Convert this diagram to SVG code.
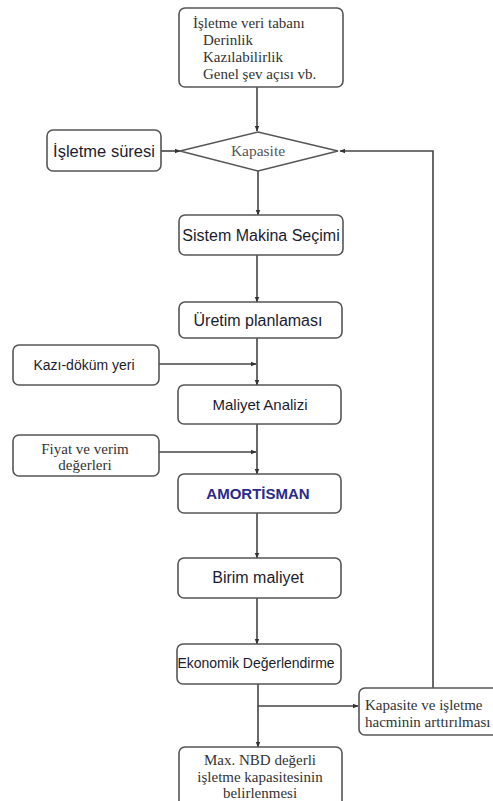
<svg xmlns="http://www.w3.org/2000/svg" width="493" height="801" viewBox="0 0 493 801">
<defs>
<marker id="ah" viewBox="0 0 10 10" refX="9" refY="5" markerWidth="6" markerHeight="6" orient="auto" markerUnits="userSpaceOnUse">
<path d="M0,1 L10,5 L0,9 Z" fill="#333"/>
</marker>
</defs>
<style>
.box{fill:#fff;stroke:#555;stroke-width:1.6}
.ln{fill:none;stroke:#444;stroke-width:1.6}
.sans{font-family:"Liberation Sans",Arial,sans-serif;fill:#1c1c2e}
.serif{font-family:"Liberation Serif","Times New Roman",serif;fill:#333}
.gray{fill:#555}
.blue{fill:#2a2a8c}
</style>
<rect width="493" height="801" fill="#fff"/>
<g id="connectors">
<line class="ln" x1="257" y1="87" x2="257" y2="131" marker-end="url(#ah)"/>
<line class="ln" x1="161" y1="151" x2="180" y2="151" marker-end="url(#ah)"/>
<polyline class="ln" points="433,688 433,151 340,151" marker-end="url(#ah)"/>
<line class="ln" x1="258" y1="171" x2="258" y2="215" marker-end="url(#ah)"/>
<line class="ln" x1="257" y1="255" x2="257" y2="302" marker-end="url(#ah)"/>
<line class="ln" x1="257" y1="338" x2="257" y2="385" marker-end="url(#ah)"/>
<line class="ln" x1="159" y1="364" x2="256" y2="364" marker-end="url(#ah)"/>
<line class="ln" x1="257" y1="424" x2="257" y2="474" marker-end="url(#ah)"/>
<line class="ln" x1="159" y1="452" x2="256" y2="452" marker-end="url(#ah)"/>
<line class="ln" x1="257" y1="513" x2="257" y2="558" marker-end="url(#ah)"/>
<line class="ln" x1="257" y1="598" x2="257" y2="644" marker-end="url(#ah)"/>
<line class="ln" x1="258" y1="684" x2="258" y2="747" marker-end="url(#ah)"/>
<line class="ln" x1="258" y1="706" x2="358" y2="706" marker-end="url(#ah)"/>
</g>
<g id="n-veri">
<rect class="box" x="179" y="8" width="164" height="79" rx="6"/>
<text class="serif" font-size="15" x="193" y="28">İşletme veri tabanı</text>
<text class="serif" font-size="15" x="203" y="45">Derinlik</text>
<text class="serif" font-size="15" x="203" y="62">Kazılabilirlik</text>
<text class="serif" font-size="15" x="203" y="79">Genel şev açısı vb.</text>
</g>
<g id="n-sure">
<rect class="box" x="47" y="130" width="114" height="41" rx="6"/>
<text class="sans" font-size="16.5" x="104" y="157" text-anchor="middle">İşletme süresi</text>
</g>
<g id="n-kapasite">
<polygon class="box" points="180,151 258,132 338,151 258,171"/>
<text class="serif gray" font-size="15.5" x="258" y="156" text-anchor="middle">Kapasite</text>
</g>
<g id="n-sistem">
<rect class="box" x="179" y="215" width="164" height="40" rx="6"/>
<text class="sans" font-size="16" x="261" y="241" text-anchor="middle">Sistem Makina Seçimi</text>
</g>
<g id="n-uretim">
<rect class="box" x="179" y="302" width="163" height="36" rx="6"/>
<text class="sans" font-size="16" x="258" y="326" text-anchor="middle">Üretim planlaması</text>
</g>
<g id="n-kazi">
<rect class="box" x="13" y="345" width="146" height="40" rx="6"/>
<text class="sans" font-size="14" x="84" y="370" text-anchor="middle">Kazı-döküm yeri</text>
</g>
<g id="n-maliyet">
<rect class="box" x="178" y="385" width="163" height="39" rx="6"/>
<text class="sans" font-size="15" x="260" y="410" text-anchor="middle">Maliyet Analizi</text>
</g>
<g id="n-fiyat">
<rect class="box" x="13" y="435" width="146" height="41" rx="6"/>
<text class="serif" font-size="15" x="85" y="454" text-anchor="middle">Fiyat ve verim</text>
<text class="serif" font-size="15" x="85" y="470" text-anchor="middle">değerleri</text>
</g>
<g id="n-amortisman">
<rect class="box" x="178" y="474" width="163" height="39" rx="6"/>
<text class="sans blue" font-size="15" font-weight="bold" x="258" y="499" text-anchor="middle">AMORTİSMAN</text>
</g>
<g id="n-birim">
<rect class="box" x="178" y="558" width="163" height="40" rx="6"/>
<text class="sans" font-size="16" x="258" y="583" text-anchor="middle">Birim maliyet</text>
</g>
<g id="n-ekonomik">
<rect class="box" x="177" y="644" width="164" height="40" rx="6"/>
<text class="sans" font-size="14" x="256" y="668" text-anchor="middle">Ekonomik Değerlendirme</text>
</g>
<g id="n-artir">
<rect class="box" x="359" y="688" width="150" height="47" rx="6"/>
<text class="serif" font-size="15" x="365" y="710">Kapasite ve işletme</text>
<text class="serif" font-size="15" x="365" y="727">hacminin arttırılması</text>
</g>
<g id="n-max">
<rect class="box" x="179" y="747" width="163" height="60" rx="6"/>
<text class="serif" font-size="15" x="260" y="765" text-anchor="middle">Max. NBD değerli</text>
<text class="serif" font-size="15" x="260" y="782" text-anchor="middle">işletme kapasitesinin</text>
<text class="serif" font-size="15" x="260" y="798" text-anchor="middle">belirlenmesi</text>
</g>
</svg>
